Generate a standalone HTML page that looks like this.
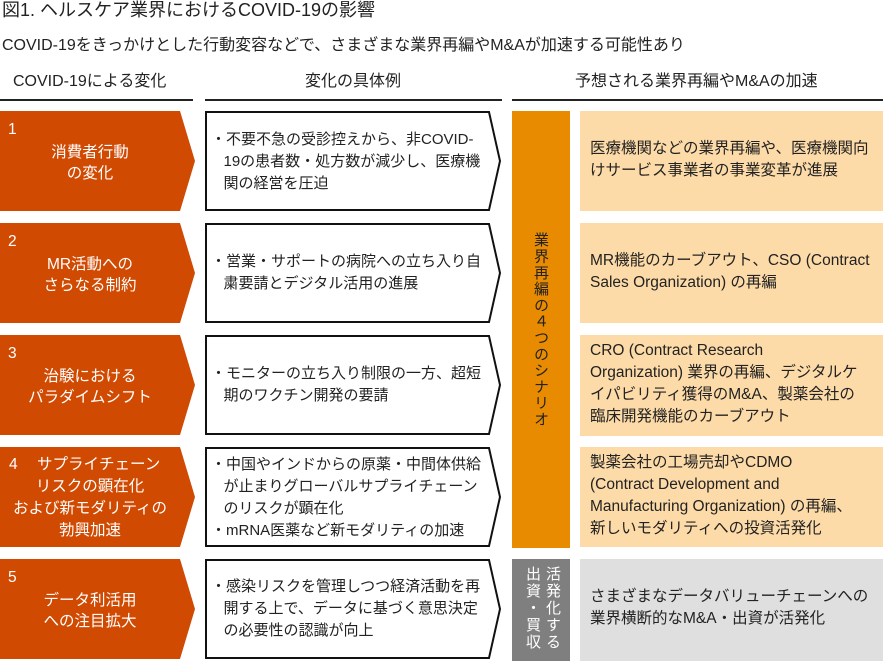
<!DOCTYPE html>
<html><head><meta charset="utf-8"><style>
*{margin:0;padding:0}
body{width:883px;height:661px;position:relative;background:#fff;font-family:"Liberation Sans","Noto Sans CJK JP",sans-serif;color:#222;overflow:hidden}
.t{position:absolute;white-space:nowrap;font-size:15px;line-height:21px}
.w{color:#fff;text-align:center;font-size:15.5px}
.r{position:absolute;left:580px;width:303px;height:100px;background:#fddba8}
.rt{position:absolute;left:590px;font-size:15.5px;line-height:22px;white-space:nowrap}
.v{position:absolute;writing-mode:vertical-rl;font-size:15px;line-height:17px;letter-spacing:1.3px}
</style></head><body>
<svg width="883" height="661" style="position:absolute;left:0;top:0">
<g fill="#d04a02">
<polygon points="0,111 180,111 195,161 180,211 0,211"/>
<polygon points="0,223 180,223 195,273 180,323 0,323"/>
<polygon points="0,335 180,335 195,385 180,435 0,435"/>
<polygon points="0,447 180,447 195,497 180,547 0,547"/>
<polygon points="0,559 180,559 195,609 180,659 0,659"/>
</g>
<g fill="#fff" stroke="#111" stroke-width="2">
<polygon points="206,112 489,112 500,161 489,210 206,210"/>
<polygon points="206,224 489,224 500,273 489,322 206,322"/>
<polygon points="206,336 489,336 500,385 489,434 206,434"/>
<polygon points="206,448 489,448 500,497 489,546 206,546"/>
<polygon points="206,560 489,560 500,609 489,658 206,658"/>
</g>
<g stroke="#222" stroke-width="2">
<line x1="0" y1="100" x2="193" y2="100"/>
<line x1="205" y1="100" x2="502" y2="100"/>
<line x1="512" y1="100" x2="883" y2="100"/>
</g>
<rect x="512" y="111" width="58" height="437" fill="#e88b00"/>
<rect x="512" y="559" width="58" height="102" fill="#7f7f7f"/>
</svg>
<div class="t" style="left:2px;top:0px;font-size:18px">図1. ヘルスケア業界におけるCOVID-19の影響</div>
<div class="t" style="left:2px;top:35px;font-size:16px">COVID-19をきっかけとした行動変容などで、さまざまな業界再編やM&amp;Aが加速する可能性あり</div>
<div class="t" style="left:13px;top:71px;font-size:16px">COVID-19による変化</div>
<div class="t" style="left:305px;top:71px;font-size:16px">変化の具体例</div>
<div class="t" style="left:575px;top:71px;font-size:16px">予想される業界再編やM&amp;Aの加速</div>

<div class="t w" style="left:8px;top:119px">1</div>
<div class="t w" style="left:0;width:180px;top:142px">消費者行動<br>の変化</div>
<div class="t w" style="left:8px;top:231px">2</div>
<div class="t w" style="left:0;width:180px;top:254px">MR活動への<br>さらなる制約</div>
<div class="t w" style="left:8px;top:343px">3</div>
<div class="t w" style="left:0;width:180px;top:366px">治験における<br>パラダイムシフト</div>
<div class="t w" style="left:0;width:180px;top:454px;line-height:22px"><span style="position:absolute;left:9px">4</span>&nbsp;&nbsp;&nbsp;&nbsp;サプライチェーン<br>リスクの顕在化<br>および新モダリティの<br>勃興加速</div>
<div class="t w" style="left:8px;top:567px">5</div>
<div class="t w" style="left:0;width:180px;top:590px">データ利活用<br>への注目拡大</div>

<div class="t" style="left:211px;top:129px;line-height:22px">・不要不急の受診控えから、非COVID-<br>&nbsp;&nbsp;&nbsp;19の患者数・処方数が減少し、医療機<br>&nbsp;&nbsp;&nbsp;関の経営を圧迫</div>
<div class="t" style="left:211px;top:251px;line-height:22px">・営業・サポートの病院への立ち入り自<br>&nbsp;&nbsp;&nbsp;粛要請とデジタル活用の進展</div>
<div class="t" style="left:211px;top:363px;line-height:22px">・モニターの立ち入り制限の一方、超短<br>&nbsp;&nbsp;&nbsp;期のワクチン開発の要請</div>
<div class="t" style="left:211px;top:454px;line-height:22px">・中国やインドからの原薬・中間体供給<br>&nbsp;&nbsp;&nbsp;が止まりグローバルサプライチェーン<br>&nbsp;&nbsp;&nbsp;のリスクが顕在化<br>・mRNA医薬など新モダリティの加速</div>
<div class="t" style="left:211px;top:576px;line-height:22px">・感染リスクを管理しつつ経済活動を再<br>&nbsp;&nbsp;&nbsp;開する上で、データに基づく意思決定<br>&nbsp;&nbsp;&nbsp;の必要性の認識が向上</div>

<div class="v" style="left:532px;top:232px;color:#222">業界再編の４つのシナリオ</div>
<div class="v" style="left:522px;top:566px;color:#fff;line-height:20px;letter-spacing:2px">活発化する出資・買収</div>

<div class="r" style="top:111px"></div>
<div class="r" style="top:223px"></div>
<div class="r" style="top:335px;height:101px"></div>
<div class="r" style="top:447px"></div>
<div class="r" style="top:559px;background:#dfdfdf;height:102px"></div>
<div class="rt" style="top:138px">医療機関などの業界再編や、医療機関向<br>けサービス事業者の事業変革が進展</div>
<div class="rt" style="top:250px">MR機能のカーブアウト、CSO (Contract<br>Sales Organization) の再編</div>
<div class="rt" style="top:340px">CRO (Contract Research<br>Organization) 業界の再編、デジタルケ<br>イパビリティ獲得のM&amp;A、製薬会社の<br>臨床開発機能のカーブアウト</div>
<div class="rt" style="top:452px">製薬会社の工場売却やCDMO<br>(Contract Development and<br>Manufacturing Organization) の再編、<br>新しいモダリティへの投資活発化</div>
<div class="rt" style="top:586px">さまざまなデータバリューチェーンへの<br>業界横断的なM&amp;A・出資が活発化</div>
</body></html>
